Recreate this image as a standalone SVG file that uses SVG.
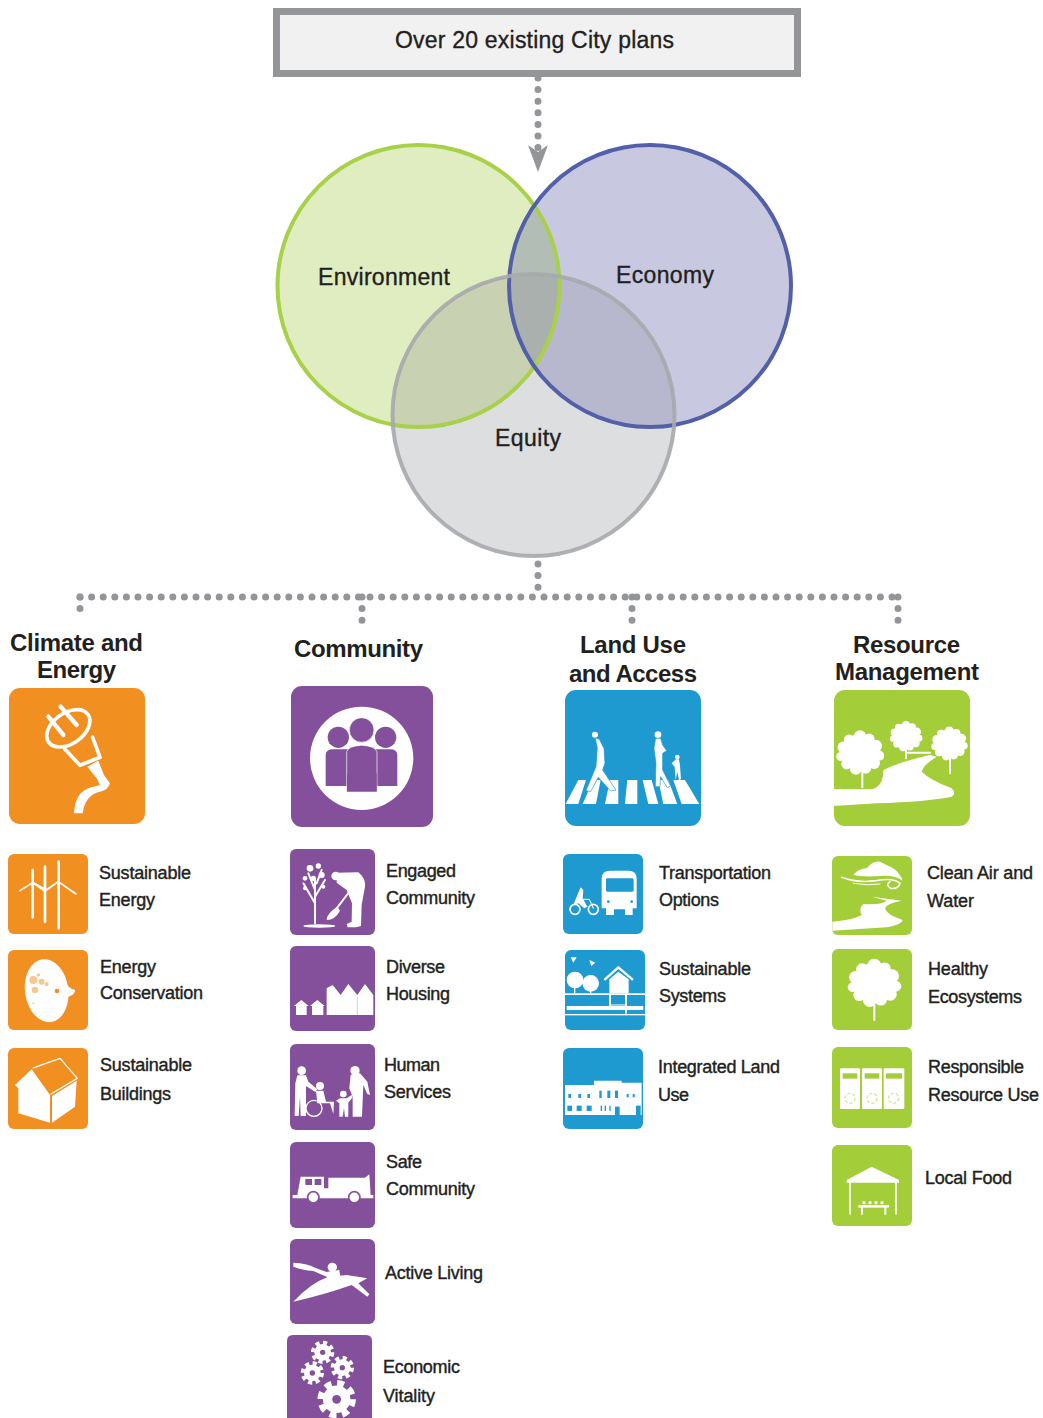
<svg xmlns="http://www.w3.org/2000/svg" width="1043" height="1418" viewBox="0 0 1043 1418">
<style>
text{font-family:"Liberation Sans",Arial,sans-serif;fill:#231f20}
.l{font-size:18px;stroke:#231f20;stroke-width:.4}
.h{font-size:24px;font-weight:bold}
.c{font-size:23px;stroke:#231f20;stroke-width:.35}
.o{fill:#f28f21}.p{fill:#84509b}.b{fill:#1e9ad1}.g{fill:#a3cd39}
.w{fill:#fff}
.s{fill:none;stroke:#fff;stroke-linecap:round;stroke-linejoin:round}
.r{fill:none;stroke-width:4}
.d{fill:none;stroke:#939598;stroke-width:7;stroke-linecap:round;stroke-dasharray:0 11.6}
</style>
<defs>
<marker id="arrow" viewBox="0 0 27 20" markerUnits="userSpaceOnUse" markerWidth="27" markerHeight="20" refX="7" refY="10" orient="auto"><path d="M0 0L7 10L0 20L27 10Z" fill="#939598"/></marker>
<g id="gear"><circle r="25" class="w"/><circle r="28" fill="none" stroke="#fff" stroke-width="14" stroke-dasharray="12 10"/><circle r="8" class="p"/></g>
<g id="crown" class="w"><circle r="44"/><circle cx="0" cy="-38" r="15"/><circle cx="22" cy="-32" r="13"/><circle cx="38" cy="-15" r="15"/><circle cx="46" cy="8" r="12"/><circle cx="34" cy="26" r="14"/><circle cx="14" cy="38" r="13"/><circle cx="-10" cy="40" r="14"/><circle cx="-32" cy="28" r="13"/><circle cx="-46" cy="10" r="11"/><circle cx="-40" cy="-12" r="14"/><circle cx="-26" cy="-30" r="13"/></g>
<clipPath id="cEnv"><circle cx="418.500" cy="286" r="141"/></clipPath>
<clipPath id="cEco"><circle cx="650" cy="286" r="141"/></clipPath>
<clipPath id="cEqu"><circle cx="533.500" cy="415" r="141"/></clipPath>
</defs>
<rect width="1043" height="1418" fill="#fff"/>

<g id="connectors">
<path class="d" d="M538 78V152" marker-end="url(#arrow)"/>
<path class="d" d="M538 564V597"/>
<path class="d" d="M80 597H899"/>
<path class="d" d="M80 597V620"/>
<path class="d" d="M362 597V626"/>
<path class="d" d="M632 597V626"/>
<path class="d" d="M898 597V626"/>
</g>

<g id="node-plans">
<rect x="276.500" y="11.500" width="521" height="62" fill="#f1f1f2" stroke="#939598" stroke-width="7"/>
<text class="c" x="395" y="48" textLength="279">Over 20 existing City plans</text>
</g>

<g id="node-environment">
<circle cx="418.500" cy="286" r="141" fill="#e0edc0"/>
</g>
<g id="node-economy">
<circle cx="650" cy="286" r="141" fill="#c8c8e0"/>
</g>
<g id="node-equity">
<circle cx="533.500" cy="415" r="141" fill="#dcdee0"/>
</g>
<g id="overlaps">
<circle cx="650" cy="286" r="141" fill="#b2bdb5" clip-path="url(#cEnv)"/>
<circle cx="533.500" cy="415" r="141" fill="#c8d1b2" clip-path="url(#cEnv)"/>
<circle cx="533.500" cy="415" r="141" fill="#b7b8cd" clip-path="url(#cEco)"/>
<g clip-path="url(#cEnv)"><circle cx="533.500" cy="415" r="141" fill="#a9b0ad" clip-path="url(#cEco)"/></g>
</g>
<g id="rings">
<circle class="r" cx="418.500" cy="286" r="141" stroke="#a8d048"/>
<circle class="r" cx="650" cy="286" r="141" stroke="#535fa8"/>
<circle class="r" cx="533.500" cy="415" r="141" stroke="#a7a9ac" stroke-opacity=".9"/>
</g>
<text class="c" x="318" y="285" textLength="132">Environment</text>
<text class="c" x="616" y="283" textLength="98">Economy</text>
<text class="c" x="495" y="446" textLength="66">Equity</text>

<g id="node-climate">
<text class="h" x="10" y="651" textLength="133">Climate and</text>
<text class="h" x="37" y="678" textLength="79">Energy</text>
<rect class="o" x="9" y="688" width="136" height="136" rx="11"/>
<g transform="translate(0,620) scale(.3333)">
<ellipse class="s" cx="205" cy="325" rx="72" ry="46" transform="rotate(-35 205 325)" stroke-width="11"/>
<path class="s" stroke-width="13" d="M145 290L190 345M182 260L230 315"/>
<path class="s" stroke-width="11" d="M195 388L240 436L300 412L278 352"/>
<path class="w" d="M262 440L295 422L312 465L330 490Q325 510 300 515Q255 525 248 580H222Q225 520 265 505L300 495L290 475Z"/>
</g>
</g>
<g id="node-sustainable-energy">
<rect class="o" x="8" y="854" width="80" height="80" rx="6"/>
<g transform="translate(0,840) scale(.3333)">
<path class="s" stroke-width="8" d="M98 90V232M135 80V245M176 65V265"/>
<path class="s" stroke-width="5" d="M60 152L98 128L132 152M100 128L140 150L175 125M138 150L175 125L228 162"/>
</g>
<text class="l" x="99" y="879" textLength="92">Sustainable</text>
<text class="l" x="99" y="906" textLength="56">Energy</text>
</g>
<g id="node-energy-conservation">
<rect class="o" x="8" y="950" width="80" height="80" rx="6"/>
<g transform="translate(0,840) scale(.3333)">
<ellipse class="w" cx="140" cy="452" rx="65" ry="95" transform="rotate(-8 140 452)"/>
<path class="w" d="M190 420Q205 445 225 450Q225 465 205 470Q195 480 185 490Z"/>
<circle class="o" cx="171" cy="453" r="7"/>
<g fill="#f9c68f"><circle cx="100" cy="420" r="12"/><circle cx="125" cy="425" r="9"/><circle cx="105" cy="450" r="10"/><circle cx="140" cy="432" r="6"/><circle cx="115" cy="405" r="5"/><circle cx="100" cy="490" r="3"/></g>
</g>
<text class="l" x="100" y="973" textLength="56">Energy</text>
<text class="l" x="100" y="999" textLength="103">Conservation</text>
</g>
<g id="node-sustainable-buildings">
<rect class="o" x="8" y="1048" width="80" height="81" rx="6"/>
<g transform="translate(0,840) scale(.3333)">
<path class="w" d="M45 735L95 688L150 765V848L55 820V745Z"/>
<path class="w" d="M156 768L230 722L225 800L156 848Z"/>
<path class="s" stroke-width="4" stroke-dasharray="6 3" d="M100 684L180 655L232 715L153 762"/>
</g>
<text class="l" x="100" y="1071" textLength="92">Sustainable</text>
<text class="l" x="100" y="1100" textLength="71">Buildings</text>
</g>

<g id="node-community">
<text class="h" x="294" y="657" textLength="129">Community</text>
<rect class="p" x="291" y="686" width="142" height="141" rx="11"/>
<g transform="translate(280,620) scale(.3333)">
<circle class="w" cx="245" cy="415" r="155"/>
<circle class="p" cx="175" cy="352" r="32"/><circle class="p" cx="317" cy="352" r="32"/>
<path class="p" d="M137 498V405Q137 388 160 388H200L245 400L290 388H330Q352 388 352 405V498Z"/>
<circle class="p" cx="245" cy="330" r="37" stroke="#fff" stroke-width="2"/>
<path class="p" d="M200 515V395Q205 378 245 376Q285 378 291 395V515Z" stroke="#fff" stroke-width="2"/>
<rect class="p" x="201" y="460" width="89" height="55"/>
</g>
</g>
<g id="node-engaged">
<rect class="p" x="290" y="849" width="85" height="86" rx="6"/>
<g transform="translate(280,840) scale(.3333)">
<path class="s" stroke-width="6" d="M105 250V120M105 190L70 130M105 170L135 120M105 150L85 100M110 130L125 90"/>
<g class="w"><circle cx="90" cy="85" r="10"/><circle cx="115" cy="78" r="8"/><circle cx="75" cy="115" r="7"/><circle cx="125" cy="105" r="9"/><circle cx="100" cy="115" r="8"/><circle cx="75" cy="145" r="6"/><circle cx="130" cy="140" r="6"/></g>
<ellipse class="w" cx="118" cy="258" rx="48" ry="5"/>
<circle class="w" cx="167" cy="108" r="13"/>
<path class="w" d="M170 98L235 97Q258 115 255 140L245 195L243 258L228 262H203L200 252L215 245L216 190L200 150L170 128Z"/>
<path class="s" stroke-width="6" d="M212 150L170 205"/>
<path class="w" d="M172 200L180 212Q165 240 140 240Q140 220 172 200Z"/>
</g>
<text class="l" x="386" y="877" textLength="70">Engaged</text>
<text class="l" x="386" y="904" textLength="89">Community</text>
</g>
<g id="node-diverse">
<rect class="p" x="290" y="946" width="85" height="85" rx="6"/>
<g transform="translate(280,840) scale(.3333)">
<path class="w" d="M42 498L64 480L86 498H80V525H48V498Z"/>
<path class="w" d="M90 498L112 480L134 498H130V525H96V498Z"/>
<path class="w" d="M140 525V445L158 435L182 465L205 432L232 465L255 432L280 465V525Z"/>
<path d="M232 470V525" stroke="#c9b0d3" stroke-width="2"/>
</g>
<text class="l" x="386" y="973" textLength="59">Diverse</text>
<text class="l" x="386" y="1000" textLength="64">Housing</text>
</g>
<g id="node-human">
<rect class="p" x="290" y="1044" width="85" height="86" rx="6"/>
<g transform="translate(280,840) scale(.3333)">
<circle class="w" cx="65" cy="692" r="13"/>
<path class="w" d="M52 706H78L85 725L112 748L106 756L78 738V828H62L60 770L56 828H44L46 730Z"/>
<circle class="w" cx="120" cy="738" r="12"/>
<path class="w" d="M108 752H130L138 785H162L160 822L150 790H112Z"/>
<circle class="s" cx="102" cy="805" r="24" stroke-width="4"/>
<circle class="w" cx="190" cy="762" r="10"/>
<path class="w" d="M180 775H200L215 765L218 772L205 788V830H195L192 805L188 830H178V790L168 782Z"/>
<circle class="w" cx="225" cy="692" r="14"/>
<path class="w" d="M212 704L240 700L262 725L270 765L262 762L250 735L246 830H218L218 770L208 745Z"/>
</g>
<text class="l" x="384" y="1071" textLength="56">Human</text>
<text class="l" x="384" y="1098" textLength="67">Services</text>
</g>
<g id="node-safe">
<rect class="p" x="290" y="1142" width="85" height="86" rx="6"/>
<g transform="translate(280,1135) scale(.3333)">
<path class="w" d="M38 190V180H52L62 125H132V160H145V128H255L268 118L272 180H280V190Z"/>
<g class="p"><rect x="76" y="132" width="20" height="18"/><rect x="104" y="132" width="20" height="18"/></g>
<circle class="w" cx="100" cy="187" r="17" stroke="#84509b" stroke-width="5"/>
<circle class="w" cx="223" cy="187" r="17" stroke="#84509b" stroke-width="5"/>
</g>
<text class="l" x="386" y="1168" textLength="36">Safe</text>
<text class="l" x="386" y="1195" textLength="89">Community</text>
</g>
<g id="node-active">
<rect class="p" x="290" y="1239" width="85" height="85" rx="6"/>
<g transform="translate(280,1135) scale(.3333)">
<path class="w" d="M40 500Q90 445 145 425L200 420L262 430L235 445L268 478L262 485L215 450Q130 480 40 500Z"/>
<circle class="w" cx="157" cy="397" r="14"/>
<path class="w" d="M142 410L178 405L182 435L140 435Z"/>
<path class="w" d="M40 383Q80 385 105 398L150 415L140 425L100 408Q65 405 40 395Z"/>
</g>
<text class="l" x="385" y="1279" textLength="98">Active Living</text>
</g>
<g id="node-economic">
<path class="p" d="M293 1335H366Q372 1335 372 1341V1418H287V1341Q287 1335 293 1335Z"/>
<g transform="translate(280,1135) scale(.3333)">
<use href="#gear" transform="translate(128,652)"/>
<use href="#gear" transform="translate(97,714)"/>
<use href="#gear" transform="translate(187,698)"/>
<use href="#gear" transform="translate(170,793) scale(1.65)"/>
</g>
<text class="l" x="383" y="1373" textLength="77">Economic</text>
<text class="l" x="383" y="1402" textLength="52">Vitality</text>
</g>

<g id="node-land">
<text class="h" x="580" y="653" textLength="106">Land Use</text>
<text class="h" x="569" y="682" textLength="128">and Access</text>
<rect class="b" x="565" y="690" width="136" height="136" rx="11"/>
<g transform="translate(280,620) scale(.3333)">
<path class="w" d="M857 552L895 480H918L895 552ZM908 552L940 480H962L948 552ZM975 552L990 480H1015L1015 552ZM1035 552L1042 480H1072V552ZM1088 480H1115L1135 552H1105ZM1135 480H1165L1192 552H1150ZM1180 480H1215L1258 552H1205Z"/>
<g class="w">
<circle cx="945" cy="344" r="9"/><circle cx="1134" cy="344" r="10"/><circle cx="1192" cy="411" r="7"/>
<path stroke="#1e9ad1" stroke-width="2" d="M946 354L958 358L972 385L975 430L968 450L1008 510L992 513L955 472L932 515L918 512L948 440L952 385Z"/>
<path stroke="#1e9ad1" stroke-width="2" d="M1127 355H1142L1148 375L1160 392L1148 400L1148 450L1172 498L1162 503L1142 470L1140 500H1126L1128 430L1122 385Z"/>
<path d="M1188 418H1197L1200 436L1203 478L1197 480L1192 455L1187 480L1184 440L1175 430Z"/>
</g>
</g>
</g>
<g id="node-transportation">
<rect class="b" x="563" y="854" width="80" height="80" rx="6"/>
<g transform="translate(550,840) scale(.3333)">
<path class="w" d="M155 115Q155 92 180 92H235Q260 92 260 115V205H248V225H225V208H192V225H168V205H155Z"/>
<rect class="b" x="168" y="115" width="83" height="40" rx="4"/>
<g class="b"><circle cx="175" cy="185" r="4"/><circle cx="245" cy="185" r="4"/></g>
<circle class="s" cx="75" cy="208" r="15" stroke-width="5"/><circle class="s" cx="130" cy="208" r="15" stroke-width="5"/>
<path class="w" d="M92 142L100 150L98 175L112 200L103 205L85 190L70 195L82 165Z"/>
<path class="s" stroke-width="3" d="M98 178H118L130 205"/>
</g>
<text class="l" x="659" y="879" textLength="112">Transportation</text>
<text class="l" x="659" y="906" textLength="60">Options</text>
</g>
<g id="node-systems">
<rect class="b" x="565" y="950" width="80" height="80" rx="6"/>
<g transform="translate(550,840) scale(.3333)">
<g class="w"><circle cx="75" cy="420" r="25"/><circle cx="122" cy="430" r="25"/><rect x="72" y="440" width="4" height="20"/><rect x="120" y="445" width="4" height="17"/></g>
<path class="w" d="M62 352H80L70 368ZM118 360L136 368L124 378Z"/>
<path class="s" stroke-width="7" d="M165 418L205 382L247 418"/>
<path class="w" d="M178 418L205 395L236 418V460H178Z"/>
<rect class="w" x="45" y="460" width="240" height="5"/>
<rect class="w" x="50" y="498" width="230" height="12"/>
<rect class="w" x="45" y="522" width="240" height="4"/>
<path class="s" stroke-width="6" d="M228 462V518M180 462V496"/>
<path class="s" stroke-width="3" d="M180 495H225"/>
</g>
<text class="l" x="659" y="975" textLength="92">Sustainable</text>
<text class="l" x="659" y="1002" textLength="67">Systems</text>
</g>
<g id="node-integrated">
<rect class="b" x="563" y="1048" width="80" height="81" rx="6"/>
<g transform="translate(550,840) scale(.3333)">
<path class="w" d="M45 735H132V722H215V728H275V825H45Z"/>
<g class="b"><rect x="55" y="762" width="8" height="12"/><rect x="85" y="762" width="8" height="12"/><rect x="112" y="762" width="8" height="12"/><rect x="148" y="752" width="7" height="22"/><rect x="172" y="752" width="9" height="22"/><rect x="195" y="752" width="9" height="22"/><rect x="230" y="762" width="6" height="10"/><rect x="248" y="762" width="6" height="10"/>
<rect x="52" y="797" width="14" height="16"/><rect x="80" y="797" width="15" height="16"/><rect x="110" y="797" width="15" height="16"/><rect x="152" y="797" width="4" height="16"/><rect x="164" y="797" width="4" height="16"/><rect x="178" y="797" width="4" height="16"/><rect x="195" y="800" width="14" height="26"/><rect x="258" y="797" width="14" height="29"/></g>
</g>
<text class="l" x="658" y="1073" textLength="122">Integrated Land</text>
<text class="l" x="658" y="1101" textLength="31">Use</text>
</g>

<g id="node-resource">
<text class="h" x="853" y="653" textLength="107">Resource</text>
<text class="h" x="835" y="680" textLength="144">Management</text>
<rect class="g" x="834" y="690" width="136" height="136" rx="11"/>
<g transform="translate(820,580) scale(.3333)">
<use href="#crown" transform="translate(120,517) scale(1.25)"/>
<use href="#crown" transform="translate(258,468) scale(.85)"/>
<use href="#crown" transform="translate(388,490) scale(.95)"/>
<path class="s" stroke-width="6" d="M127 570V622M258 500V535M390 535V580M258 518H330"/>
<path class="w" d="M40 628H155Q190 620 190 570Q240 545 330 525L350 530Q310 555 305 575Q330 600 395 625Q410 640 395 650Q320 665 170 670L40 678Z"/>
</g>
</g>
<g id="node-air">
<rect class="g" x="832" y="856" width="80" height="79" rx="6"/>
<g transform="translate(820,840) scale(.3333)">
<path class="w" d="M100 105Q115 85 140 85Q160 60 180 65Q200 75 220 85Q240 100 248 122Q225 105 180 108Q130 112 100 105Z"/>
<path class="s" stroke-width="5" d="M65 112Q110 130 170 122Q220 112 240 130Q235 148 212 145Q195 135 210 125"/>
<path class="s" stroke-width="3" d="M100 130Q140 138 180 132"/>
<path class="w" d="M155 170L245 182Q200 190 195 205Q200 225 248 240Q245 255 200 262L37 272V245Q100 240 125 225Q115 205 130 192Q185 195 200 182Z"/>
</g>
<text class="l" x="927" y="879" textLength="106">Clean Air and</text>
<text class="l" x="927" y="907" textLength="47">Water</text>
</g>
<g id="node-ecosystems">
<rect class="g" x="832" y="949" width="80" height="81" rx="6"/>
<g transform="translate(820,840) scale(.3333)">
<use href="#crown" transform="translate(163,428) scale(1.4 1.35)"/>
<path class="s" stroke-width="6" d="M163 480V540"/>
</g>
<text class="l" x="928" y="975" textLength="60">Healthy</text>
<text class="l" x="928" y="1003" textLength="94">Ecosystems</text>
</g>
<g id="node-responsible">
<rect class="g" x="832" y="1047" width="80" height="81" rx="6"/>
<g transform="translate(820,840) scale(.3333)">
<rect class="w" x="60" y="685" width="60" height="122" rx="3"/><rect class="w" x="126" y="685" width="60" height="122" rx="3"/><rect class="w" x="191" y="685" width="62" height="122" rx="3"/>
<g class="g"><rect x="68" y="700" width="44" height="16"/><rect x="134" y="700" width="44" height="16"/><rect x="198" y="700" width="48" height="16"/></g>
<g fill="none" stroke="#d6e89b" stroke-width="4" stroke-dasharray="10 5"><circle cx="90" cy="775" r="15"/><circle cx="156" cy="775" r="15"/><circle cx="221" cy="775" r="15"/></g>
</g>
<text class="l" x="928" y="1073" textLength="96">Responsible</text>
<text class="l" x="928" y="1101" textLength="111">Resource Use</text>
</g>
<g id="node-food">
<rect class="g" x="832" y="1145" width="80" height="81" rx="6"/>
<g transform="translate(820,840) scale(.3333)">
<path class="w" d="M80 1020L155 980L237 1020V1028H80Z"/>
<path class="s" stroke-width="5" d="M90 1028V1122M228 1028V1122"/>
<rect class="w" x="115" y="1095" width="92" height="8"/>
<path class="s" stroke-width="6" d="M126 1103V1122M196 1103V1122"/>
<g class="w"><circle cx="132" cy="1088" r="5"/><circle cx="150" cy="1088" r="5"/><circle cx="168" cy="1088" r="5"/><circle cx="186" cy="1088" r="5"/></g>
</g>
<text class="l" x="925" y="1184" textLength="87">Local Food</text>
</g>
</svg>
